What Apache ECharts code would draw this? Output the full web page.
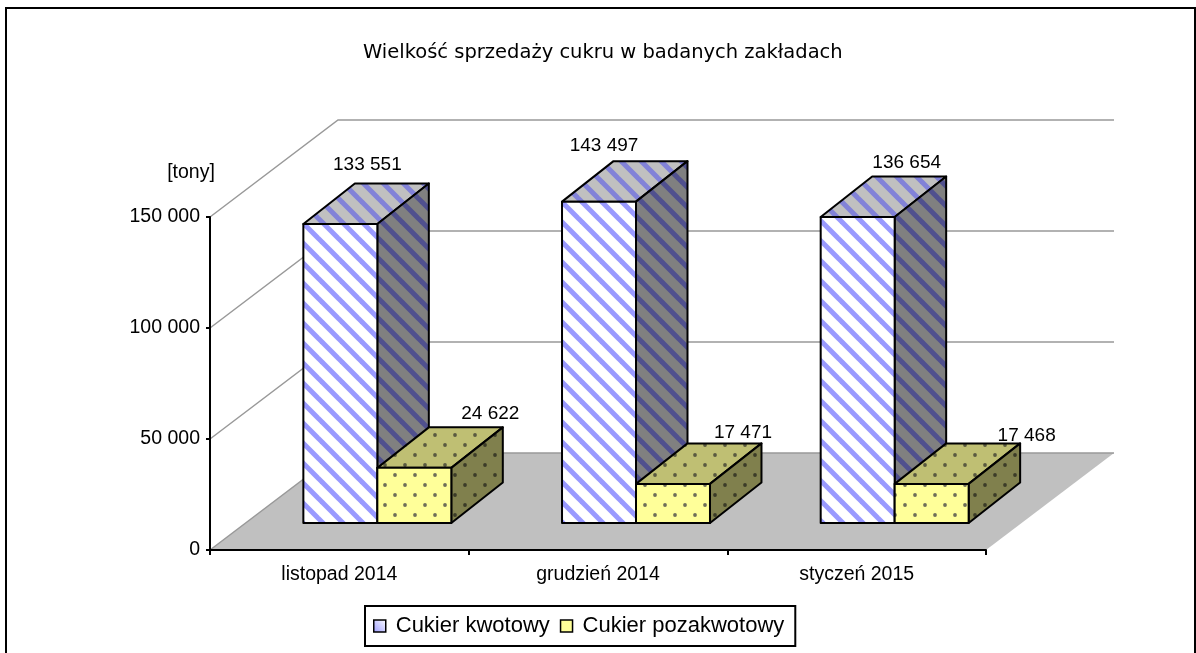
<!DOCTYPE html>
<html>
<head>
<meta charset="utf-8">
<title>Wielkość sprzedaży cukru</title>
<script src="https://cdn.jsdelivr.net/npm/echarts@6/dist/echarts.min.js"></script>
<style>
  html, body { margin: 0; padding: 0; background: #fff; }
  #chart { width: 1196px; height: 653px; }
</style>
</head>
<body>
<div id="chart"></div>
<script>
const months = ['listopad 2014', 'grudzień 2014', 'styczeń 2015']
const quotaSugar = [133551, 143497, 136654]
const nonQuotaSugar = [24622, 17471, 17468]
const wallTicks = [0, 50000, 100000, 150000]

// excel placed these labels by hand: [dx from bar left, dy from bar top]
const quotaLabelShift = [[64, -59], [42, -56], [86, -54]]
const nonQuotaLabelShift = [[113, -54], [107, -51], [132, -48]]

const FLOOR_DX = 128
const FLOOR_DY = 97
const BAR_DX = 51.5
const BAR_DY = 40.5
const BASE_SHIFT_X = 38
const BASE_SHIFT_Y = 27
const BAR_RATIO = 0.286

function spaced(v) {
  return String(v).replace(/\B(?=(\d{3})+$)/g, ' ')
}

function stripes(bg, fg) {
  const c = document.createElement('canvas')
  c.width = 20
  c.height = 20
  const g = c.getContext('2d')
  g.fillStyle = bg
  g.fillRect(0, 0, 20, 20)
  g.strokeStyle = fg
  g.lineWidth = 5
  for (const o of [-20, 0, 20]) {
    g.beginPath()
    g.moveTo(o - 2, -2)
    g.lineTo(o + 22, 22)
    g.stroke()
  }
  return { image: c, repeat: 'repeat' }
}

function dots(bg, fg) {
  const c = document.createElement('canvas')
  c.width = 20
  c.height = 20
  const g = c.getContext('2d')
  g.fillStyle = bg
  g.fillRect(0, 0, 20, 20)
  g.fillStyle = fg
  for (const [x, y] of [[5, 5], [15, 15]]) {
    g.beginPath()
    g.arc(x, y, 1.9, 0, Math.PI * 2)
    g.fill()
  }
  return { image: c, repeat: 'repeat' }
}

const quotaFaces = {
  front: stripes('#ffffff', '#9999ff'),
  top: stripes('#c0c0c0', '#8282d8'),
  side: stripes('#808080', '#50508e'),
}
const nonQuotaFaces = {
  front: dots('#ffff99', '#6e6e58'),
  top: dots('#bfbf73', '#5a5a40'),
  side: dots('#80804d', '#3c3c28'),
}

function poly(points, fill) {
  return {
    type: 'polygon',
    shape: { points },
    style: { fill, stroke: '#000', lineWidth: 2, lineJoin: 'round' },
  }
}

// second: false puts the box at the left half of the category slot
function boxRenderer(faces, second, shifts) {
  return function (params, api) {
    const idx = api.value(0)
    const value = api.value(1)
    const band = api.size([1, 0])[0]
    const w = band * BAR_RATIO
    const center = api.coord([idx, 0])
    const left = center[0] + BASE_SHIFT_X - (second ? 0 : w)
    const bottom = center[1] - BASE_SHIFT_Y
    const top = bottom - api.size([0, value])[1]
    const right = left + w
    const shift = shifts[idx]
    return {
      type: 'group',
      children: [
        poly([[left, top], [left + BAR_DX, top - BAR_DY], [right + BAR_DX, top - BAR_DY], [right, top]], faces.top),
        poly([[right, top], [right + BAR_DX, top - BAR_DY], [right + BAR_DX, bottom - BAR_DY], [right, bottom]], faces.side),
        poly([[left, top], [right, top], [right, bottom], [left, bottom]], faces.front),
        {
          type: 'text',
          z2: 50,
          style: {
            x: left + shift[0],
            y: top + shift[1],
            text: spaced(value),
            textAlign: 'center',
            verticalAlign: 'middle',
            fill: '#000',
            font: '19px "Liberation Sans", Arial, sans-serif',
          },
        },
      ],
    }
  }
}

function renderWall(params, api) {
  const rect = params.coordSys
  const value = api.value(1)
  const y = api.coord([0, value])[1]
  const x0 = rect.x
  const x1 = rect.x + rect.width
  const lineStyle = { stroke: '#999999', lineWidth: 1.5, fill: null }
  const children = []
  if (value === 0) {
    children.push({
      type: 'polygon',
      shape: { points: [[x0, y], [x0 + FLOOR_DX, y - FLOOR_DY], [x1 + FLOOR_DX, y - FLOOR_DY], [x1, y]] },
      style: { fill: '#c0c0c0' },
    })
  }
  children.push({
    type: 'polyline',
    shape: { points: [[x0, y], [x0 + FLOOR_DX, y - FLOOR_DY], [x1 + FLOOR_DX, y - FLOOR_DY]] },
    style: lineStyle,
  })
  return { type: 'group', children }
}

const chart = echarts.init(document.getElementById('chart'))
chart.setOption({
  animation: false,
  textStyle: { fontFamily: '"Liberation Sans", Arial, sans-serif', color: '#000' },
  graphic: [{
    type: 'rect',
    silent: true,
    shape: { x: 6, y: 8, width: 1189, height: 700 },
    style: { fill: null, stroke: '#000', lineWidth: 2 },
  }],
  title: {
    text: 'Wielkość sprzedaży cukru w badanych zakładach',
    left: 363,
    top: 43,
    padding: 0,
    textStyle: {
      fontFamily: '"DejaVu Sans"',
      fontWeight: 'normal',
      fontSize: 19.5,
      color: '#000',
    },
  },
  legend: {
    left: 365,
    top: 606,
    padding: [9, 11, 9, 8],
    backgroundColor: '#fff',
    borderColor: '#000',
    borderWidth: 2,
    borderRadius: 0,
    itemWidth: 12,
    itemHeight: 12,
    itemGap: 10,
    icon: 'rect',
    textStyle: { fontSize: 22, color: '#000', padding: [0, 0, 0, 5] },
    data: [
      {
        name: 'Cukier kwotowy',
        itemStyle: {
          color: new echarts.graphic.LinearGradient(0, 1, 1, 0, [
            { offset: 0, color: '#9999ff' }, { offset: 1, color: '#ffffff' },
          ]),
          borderColor: '#000',
          borderWidth: 1.5,
        },
      },
      {
        name: 'Cukier pozakwotowy',
        itemStyle: {
          color: '#ffff99',
          borderColor: '#000',
          borderWidth: 1.5,
        },
      },
    ],
  },
  grid: { left: 210, right: 210, top: 217, bottom: 103 },
  xAxis: {
    type: 'category',
    data: months,
    z: 5,
    axisLine: { lineStyle: { color: '#000', width: 2 } },
    axisTick: { show: true, alignWithLabel: false, length: 5, lineStyle: { color: '#000', width: 2 } },
    axisLabel: { fontSize: 19.5, color: '#000', margin: 15 },
  },
  yAxis: [
    {
      type: 'value',
      min: 0,
      max: 150000,
      interval: 50000,
      z: 5,
      name: '[tony]',
      nameLocation: 'end',
      nameGap: 34,
      nameTextStyle: { fontSize: 19.5, color: '#000', align: 'center', padding: [0, 38, 0, 0] },
      splitLine: { show: false },
      axisLine: { show: true, lineStyle: { color: '#000', width: 2 } },
      axisTick: { show: true, length: 4, lineStyle: { color: '#000', width: 2 } },
      axisLabel: { fontSize: 19.5, color: '#000', margin: 10, formatter: spaced },
    },
    // bars sit on the nearer plane, so their scale runs slightly larger than the printed axis
    { type: 'value', min: 0, max: 148700, show: false, splitLine: { show: false } },
  ],
  series: [
    {
      type: 'custom',
      name: 'wall',
      z: 1,
      silent: true,
      clip: false,
      renderItem: renderWall,
      data: wallTicks.map(v => [0, v]),
    },
    {
      type: 'custom',
      name: 'Cukier kwotowy',
      z: 2,
      yAxisIndex: 1,
      clip: false,
      renderItem: boxRenderer(quotaFaces, false, quotaLabelShift),
      data: quotaSugar.map((v, i) => [i, v]),
    },
    {
      type: 'custom',
      name: 'Cukier pozakwotowy',
      z: 3,
      yAxisIndex: 1,
      clip: false,
      renderItem: boxRenderer(nonQuotaFaces, true, nonQuotaLabelShift),
      data: nonQuotaSugar.map((v, i) => [i, v]),
    },
  ],
})
</script>
</body>
</html>
